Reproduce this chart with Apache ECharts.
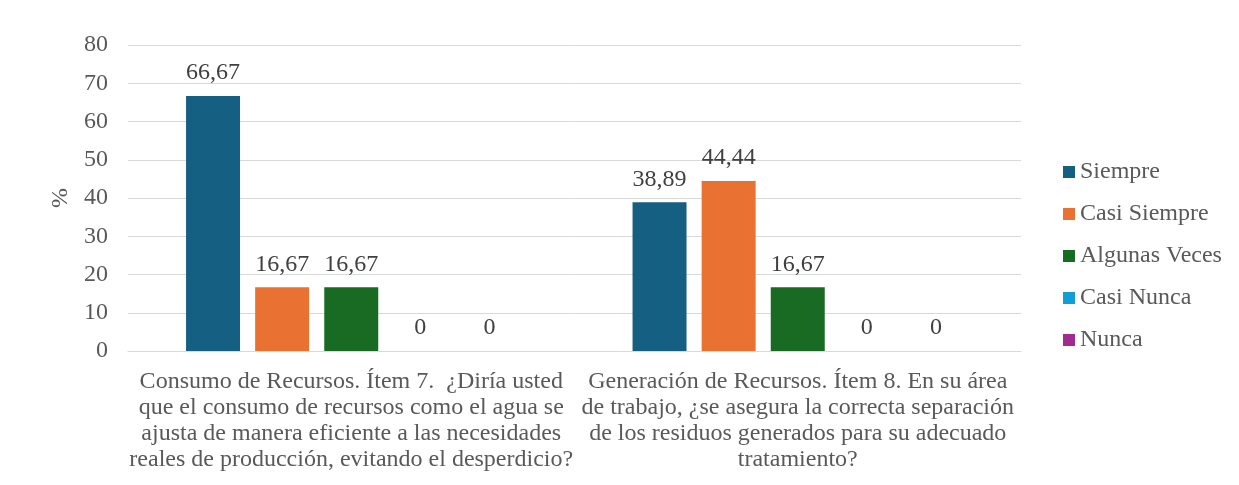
<!DOCTYPE html>
<html>
<head>
<meta charset="utf-8">
<script src="https://cdn.jsdelivr.net/npm/echarts@6/dist/echarts.min.js"></script>
<style>
  html, body { margin: 0; padding: 0; background: #fff; }
  #chart { width: 1239px; height: 485px; }
</style>
</head>
<body>
<div id="chart"></div>
<script>
var categories = [
    'Consumo de Recursos. Ítem 7.  ¿Diría usted\nque el consumo de recursos como el agua se\najusta de manera eficiente a las necesidades\nreales de producción, evitando el desperdicio?',
    'Generación de Recursos. Ítem 8. En su área\nde trabajo, ¿se asegura la correcta separación\nde los residuos generados para su adecuado\ntratamiento?'
];
var seriesNames = ['Siempre', 'Casi Siempre', 'Algunas Veces', 'Casi Nunca', 'Nunca'];
var siempre = [66.67, 38.89];
var casiSiempre = [16.67, 44.44];
var algunasVeces = [16.67, 16.67];
var casiNunca = [0, 0];
var nunca = [0, 0];
var colors = ['#156082', '#E97132', '#196B24', '#0F9ED5', '#A02B93'];

var values = [siempre, casiSiempre, algunasVeces, casiNunca, nunca];
var font = 'Liberation Serif';

var myChart = echarts.init(document.getElementById('chart'));
var option = {
    animation: false,
    textStyle: { fontFamily: font },
    grid: { left: 128, right: 218, top: 45, bottom: 134 },
    legend: {
        orient: 'vertical',
        left: 1058,
        top: 155,
        itemWidth: 12,
        itemHeight: 12,
        itemGap: 18,
        icon: 'rect',
        textStyle: { fontFamily: font, fontSize: 24, color: '#595959' },
        data: seriesNames
    },
    xAxis: {
        type: 'category',
        data: categories,
        axisLine: { lineStyle: { color: '#d9d9d9' } },
        axisTick: { show: false },
        axisLabel: {
            interval: 0,
            fontFamily: font,
            fontSize: 24,
            lineHeight: 26,
            color: '#595959',
            margin: 18,
            align: 'center'
        }
    },
    yAxis: {
        type: 'value',
        min: 0,
        max: 80,
        interval: 10,
        name: '%',
        nameLocation: 'middle',
        nameGap: 53,
        nameRotate: 90,
        nameTextStyle: { fontFamily: font, fontSize: 24, color: '#595959' },
        axisLabel: { fontFamily: font, fontSize: 24, color: '#595959', margin: 20 },
        splitLine: { lineStyle: { color: '#d9d9d9' } }
    },
    series: seriesNames.map(function (name, i) {
        return {
            name: name,
            type: 'bar',
            data: values[i],
            barGap: '28%',
            barCategoryGap: '26%',
            itemStyle: { color: colors[i] },
            label: {
                show: true,
                position: 'top',
                distance: 11,
                fontFamily: font,
                fontSize: 24,
                color: '#404040',
                formatter: function (p) {
                    return String(p.value).replace('.', ',');
                }
            }
        };
    })
};
myChart.setOption(option);
</script>
</body>
</html>
